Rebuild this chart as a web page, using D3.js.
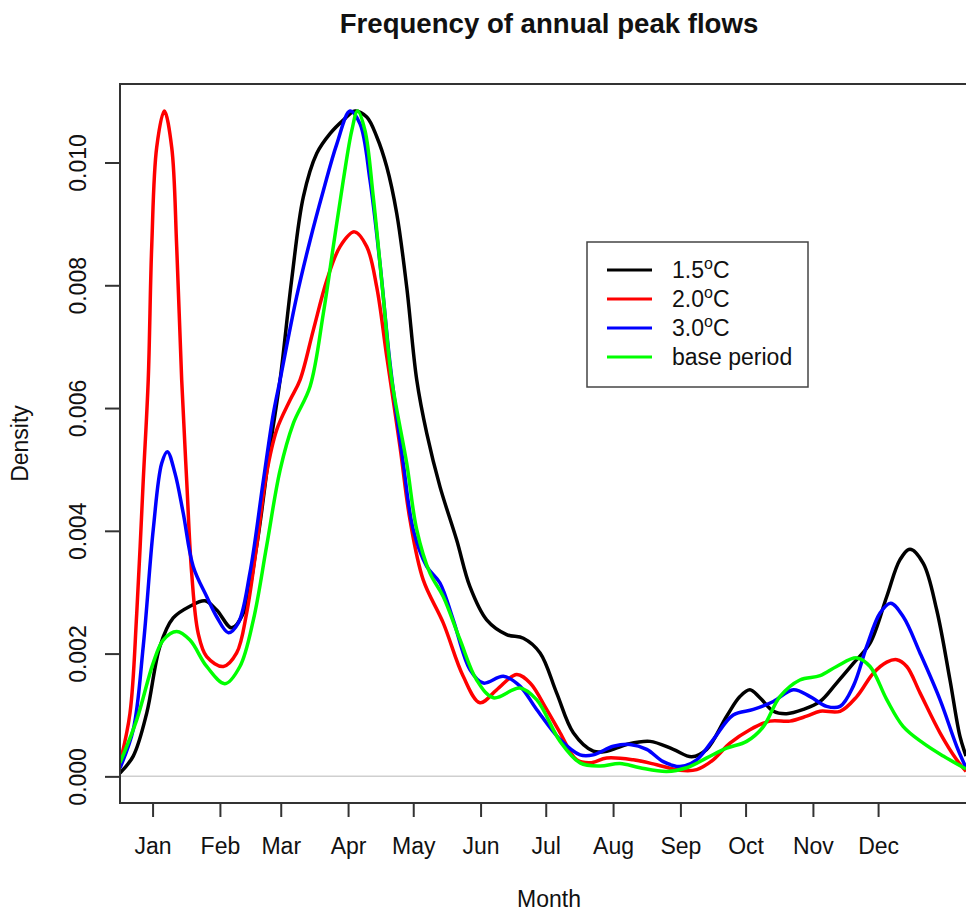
<!DOCTYPE html>
<html>
<head>
<meta charset="utf-8">
<script src="https://cdn.jsdelivr.net/npm/d3@7"></script>
<style>
    body { margin: 0; background: #fff; }
    svg text { font-family: "Liberation Sans", Arial, Helvetica, sans-serif; fill: #111; }
</style>
</head>
<body>
<svg id="chart" width="966" height="913"></svg>
<script>
// month ticks, as day of year
var monthNames = ['Jan', 'Feb', 'Mar', 'Apr', 'May', 'Jun', 'Jul', 'Aug', 'Sep', 'Oct', 'Nov', 'Dec'];
var monthDays = [15, 46, 74, 105, 135, 166, 196, 227, 258, 288, 319, 349];
var densityTicks = [0, 0.002, 0.004, 0.006, 0.008, 0.010];

// [day of year, density]
var warm15 = [
    [0, 0.000055], [6.1, 0.00033], [12.3, 0.00103], [18.4, 0.00212], [24.5, 0.00258],
    [32.2, 0.00277], [39.1, 0.00286], [44.5, 0.00271], [51.4, 0.00242], [56.8, 0.00266],
    [62.9, 0.00375], [69.1, 0.00537], [73.7, 0.00646], [79.0, 0.00808], [84.4, 0.00944],
    [90.6, 0.01015], [96.7, 0.01047], [102.8, 0.01069], [108.2, 0.01084], [113.6, 0.01074],
    [118.2, 0.01042], [122.8, 0.00993], [127.4, 0.00917], [132.0, 0.00797], [136.6, 0.00646],
    [141.2, 0.00559], [147.3, 0.00472], [155.0, 0.00385], [161.1, 0.00309], [168.8, 0.00255],
    [178.0, 0.00231], [185.7, 0.00225], [193.4, 0.00201], [201.0, 0.00136], [208.7, 0.00071],
    [217.9, 0.00041], [224.1, 0.00041], [233.3, 0.00052], [244.0, 0.00057], [254.7, 0.00044],
    [263.2, 0.00032], [270.1, 0.00044], [279.3, 0.00098], [285.4, 0.00130], [290.0, 0.00141],
    [294.6, 0.00128], [300.8, 0.00106], [306.9, 0.00102], [314.6, 0.00109], [322.3, 0.00122],
    [329.9, 0.00152], [337.6, 0.00184], [345.3, 0.00217], [353.0, 0.00293], [359.1, 0.00353],
    [363.7, 0.00370], [369.8, 0.00347], [376.0, 0.00271], [382.1, 0.00157], [386.7, 0.00065],
    [389.5, 0.00033]
];

var warm20 = [
    [0, 0.00022], [4.6, 0.00103], [7.7, 0.00265], [10.7, 0.00482], [13.0, 0.00646],
    [14.6, 0.00863], [16.9, 0.01025], [20.4, 0.01084], [23.8, 0.01025], [26.1, 0.00863],
    [28.4, 0.00646], [30.7, 0.00482], [33.0, 0.00331], [36.0, 0.00233], [39.9, 0.00195],
    [47.6, 0.00179], [53.7, 0.00201], [58.3, 0.00266], [62.9, 0.00375], [67.5, 0.00494],
    [72.1, 0.00564], [78.3, 0.00613], [82.9, 0.00646], [89.0, 0.00727], [95.2, 0.00808],
    [101.3, 0.00863], [107.9, 0.00887], [113.6, 0.00863], [118.2, 0.00797], [122.8, 0.00684],
    [128.9, 0.00537], [133.5, 0.00418], [139.6, 0.00320], [148.8, 0.00250], [158.0, 0.00163],
    [165.7, 0.00120], [173.4, 0.00141], [182.6, 0.00166], [188.8, 0.00152], [196.4, 0.00109],
    [202.6, 0.00071], [210.2, 0.00027], [216.4, 0.00022], [224.1, 0.00030], [236.3, 0.00027],
    [247.1, 0.00019], [257.8, 0.00010], [265.5, 0.00011], [273.1, 0.00027], [280.8, 0.00054],
    [290.0, 0.00076], [299.2, 0.00090], [308.4, 0.00090], [316.1, 0.00098], [322.3, 0.00106],
    [331.5, 0.00106], [339.2, 0.00130], [346.8, 0.00168], [353.0, 0.00186], [357.6, 0.00190],
    [362.2, 0.00179], [368.3, 0.00136], [377.5, 0.00071], [385.2, 0.00027], [389.5, 0.00008]
];

var warm30 = [
    [0, 0.000137], [6.1, 0.00076], [10.7, 0.00212], [15.3, 0.00402], [19.2, 0.00510],
    [21.8, 0.00529], [25.3, 0.00494], [29.1, 0.00429], [33.7, 0.00342], [39.9, 0.00293],
    [44.5, 0.00260], [49.9, 0.00234], [54.5, 0.00250], [59.8, 0.00331], [66.0, 0.00482],
    [70.6, 0.00591], [73.7, 0.00646], [81.3, 0.00781], [87.5, 0.00873], [93.6, 0.00954],
    [99.8, 0.01030], [105.9, 0.01084], [110.5, 0.01063], [115.1, 0.00971], [119.7, 0.00835],
    [124.3, 0.00673], [130.4, 0.00510], [135.0, 0.00402], [141.2, 0.00342], [147.3, 0.00315],
    [153.4, 0.00255], [161.1, 0.00174], [167.3, 0.00152], [176.5, 0.00163], [184.1, 0.00147],
    [191.8, 0.00109], [202.6, 0.00060], [211.8, 0.00035], [217.9, 0.00035], [227.1, 0.00049],
    [234.8, 0.00052], [242.5, 0.00044], [250.1, 0.00024], [257.8, 0.00016], [265.5, 0.00027],
    [273.1, 0.00060], [282.3, 0.00100], [291.6, 0.00109], [300.8, 0.00122], [310.0, 0.00141],
    [317.7, 0.00130], [325.3, 0.00114], [331.5, 0.00114], [337.6, 0.00147], [343.8, 0.00212],
    [349.9, 0.00266], [354.8, 0.00282], [360.6, 0.00260], [368.3, 0.00201], [377.5, 0.00125],
    [385.2, 0.00049], [389.5, 0.00014]
];

var basePeriod = [
    [0, 0.00022], [7.7, 0.00092], [15.3, 0.00185], [19.9, 0.00222], [26.1, 0.00236],
    [32.2, 0.00222], [39.9, 0.00179], [48.3, 0.00151], [55.2, 0.00179], [61.4, 0.00255],
    [67.5, 0.00375], [73.7, 0.00499], [79.8, 0.00575], [87.5, 0.00635], [93.6, 0.00754],
    [98.2, 0.00863], [102.8, 0.00971], [106.7, 0.01052], [109.4, 0.01084], [112.8, 0.01052],
    [116.6, 0.00944], [121.2, 0.00781], [125.1, 0.00646], [132.0, 0.00510], [136.6, 0.00402],
    [142.7, 0.00331], [148.8, 0.00293], [156.5, 0.00223], [164.2, 0.00157], [171.9, 0.00128],
    [184.1, 0.00144], [191.8, 0.00125], [202.6, 0.00057], [211.8, 0.00022], [221.0, 0.00017],
    [230.2, 0.00021], [239.4, 0.00014], [251.7, 0.00008], [260.9, 0.00014], [270.1, 0.00030],
    [279.3, 0.00046], [288.5, 0.00057], [296.2, 0.00081], [303.8, 0.00130], [313.0, 0.00157],
    [322.3, 0.00164], [329.9, 0.00179], [339.2, 0.00193], [345.3, 0.00179], [353.0, 0.00125],
    [360.6, 0.00081], [369.8, 0.00054], [379.0, 0.00033], [389.5, 0.00012]
];

var seriesNames = ['1.5', '2.0', '3.0', 'base period'];
var seriesColors = ['#000000', '#ff0000', '#0000ff', '#00ff00'];
var seriesData = [warm15, warm20, warm30, basePeriod];

var svg = d3.select('#chart');
var plot = { left: 120, right: 978, top: 84, bottom: 803 };

var x = d3.scaleLinear().domain([0, 395]).range([plot.left, plot.right]);
var y = d3.scaleLinear().domain([-0.000434, 0.011279]).range([plot.bottom, plot.top]);

svg.append('rect').attr('width', 966).attr('height', 913).attr('fill', '#fff');

// zero line
svg.append('line')
    .attr('x1', plot.left).attr('x2', plot.right)
    .attr('y1', y(0)).attr('y2', y(0))
    .attr('stroke', '#cfcfcf').attr('stroke-width', 1.5);

svg.append('clipPath').attr('id', 'clip')
    .append('rect')
    .attr('x', plot.left).attr('y', plot.top)
    .attr('width', plot.right - plot.left).attr('height', plot.bottom - plot.top);

var line = d3.line()
    .x(function(d) { return x(d[0]); })
    .y(function(d) { return y(d[1]); })
    .curve(d3.curveCatmullRom.alpha(0.5));

// drawing order like the original: black, red, blue, green on top
svg.append('g').attr('clip-path', 'url(#clip)')
    .selectAll('path')
    .data(seriesData)
    .enter()
    .append('path')
    .attr('d', line)
    .attr('fill', 'none')
    .attr('stroke', function(d, i) { return seriesColors[i]; })
    .attr('stroke-width', 3.5)
    .attr('stroke-linejoin', 'round');

// box
svg.append('rect')
    .attr('x', plot.left).attr('y', plot.top)
    .attr('width', plot.right - plot.left).attr('height', plot.bottom - plot.top)
    .attr('fill', 'none').attr('stroke', '#333').attr('stroke-width', 2);

var xAxis = svg.append('g')
    .attr('transform', 'translate(0,' + plot.bottom + ')')
    .call(d3.axisBottom(x)
        .tickValues(monthDays)
        .tickFormat(function(d, i) { return monthNames[i]; })
        .tickSize(14)
        .tickPadding(21));
xAxis.select('.domain').remove();
xAxis.selectAll('line').attr('stroke', '#333').attr('stroke-width', 2);
xAxis.selectAll('text').attr('font-size', 23).attr('fill', '#111');

var yAxis = svg.append('g')
    .attr('transform', 'translate(' + plot.left + ',0)')
    .call(d3.axisLeft(y)
        .tickValues(densityTicks)
        .tickFormat(d3.format('.3f'))
        .tickSize(15));
yAxis.select('.domain').remove();
yAxis.selectAll('line').attr('stroke', '#333').attr('stroke-width', 2);
yAxis.selectAll('text')
    .attr('transform', 'rotate(-90)')
    .attr('x', 0)
    .attr('y', -34)
    .attr('dy', 0)
    .attr('text-anchor', 'middle')
    .attr('font-size', 23)
    .attr('fill', '#111');

var midX = (plot.left + plot.right) / 2;

svg.append('text')
    .attr('x', midX).attr('y', 33)
    .attr('text-anchor', 'middle')
    .attr('font-size', 27.6)
    .attr('font-weight', 'bold')
    .text('Frequency of annual peak flows');

svg.append('text')
    .attr('x', midX).attr('y', 907)
    .attr('text-anchor', 'middle')
    .attr('font-size', 23)
    .text('Month');

svg.append('text')
    .attr('transform', 'translate(28,' + ((plot.top + plot.bottom) / 2) + ') rotate(-90)')
    .attr('text-anchor', 'middle')
    .attr('font-size', 23)
    .text('Density');

// legend
var legend = svg.append('g').attr('transform', 'translate(587,242)');
legend.append('rect')
    .attr('width', 221).attr('height', 145)
    .attr('fill', '#fff').attr('stroke', '#444').attr('stroke-width', 1.5);

var items = legend.selectAll('g.item')
    .data(seriesNames)
    .enter()
    .append('g')
    .attr('transform', function(d, i) { return 'translate(0,' + (28 + i * 29) + ')'; });

items.append('line')
    .attr('x1', 20).attr('x2', 65)
    .attr('stroke', function(d, i) { return seriesColors[i]; })
    .attr('stroke-width', 3);

items.append('text')
    .attr('x', 85).attr('y', 8)
    .attr('font-size', 23)
    .each(function(d) {
        var t = d3.select(this);
        if (d === 'base period') { t.text(d); return; }
        t.append('tspan').text(d);
        t.append('tspan').attr('font-size', 16).attr('dy', -9).text('o');
        t.append('tspan').attr('dy', 9).text('C');
    });
</script>
</body>
</html>
